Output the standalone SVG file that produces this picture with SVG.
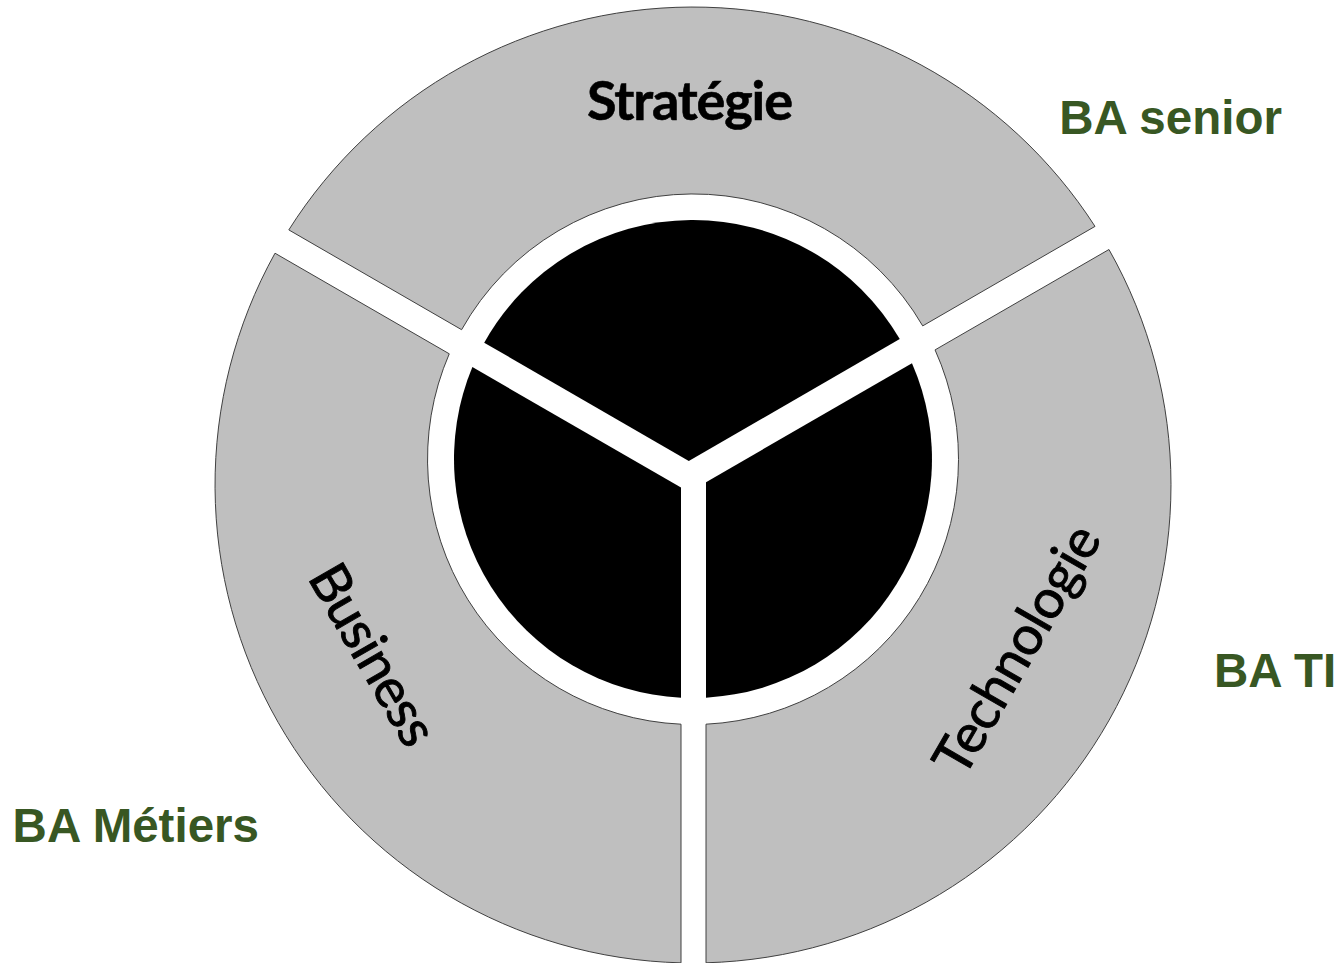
<svg xmlns="http://www.w3.org/2000/svg" width="1343" height="963" viewBox="0 0 1343 963">
<style>
.sector{fill:#bfbfbf;stroke:#404040;stroke-width:1}
.core{fill:#000000}
.lbl{font-family:Lato,"Open Sans","Liberation Sans",sans-serif;fill:#000000;font-size:54px;text-anchor:middle}
.side{stroke:#000000;stroke-width:0.9}
.ba{font-family:"Liberation Sans",Arial,sans-serif;font-weight:bold;font-size:47.5px;fill:#385723}
</style>
<rect x="0" y="0" width="1343" height="963" fill="#ffffff"/>
<g id="strategie">
<path class="sector" d="M 288.8,229.9 A 478 478 0 0 1 1095.0,226.4 L 922.7,325.9 A 265.5 265.5 0 0 0 461.6,329.7 Z"/>
<text class="lbl" x="690" y="120" font-weight="bold" textLength="206" stroke="#000" stroke-width="0.6">Stratégie</text>
</g>
<g id="business">
<path class="sector" d="M 275.0,253.2 A 478 478 0 0 0 681,962.85 L 681,724.2 A 265.5 265.5 0 0 1 449.25,353.8 Z"/>
<text class="lbl side" transform="translate(357,664) rotate(60)" x="0" y="0" textLength="200">Business</text>
</g>
<g id="technologie">
<path class="sector" d="M 1108.96,249.5 A 478 478 0 0 1 706,962.8 L 706,724.2 A 265.5 265.5 0 0 0 935.06,349.9 Z"/>
<text class="lbl side" transform="translate(1033,659) rotate(-60)" x="0" y="0" textLength="278">Technologie</text>
</g>
<g id="core">
<path class="core" d="M 484.2,342.7 A 239 239 0 0 1 899.76,339.1 L 688.8,460.9 Z"/>
<path class="core" d="M 472.37,367.1 A 239 239 0 0 0 681,697.7 L 681,487.6 Z"/>
<path class="core" d="M 911.98,363.3 A 239 239 0 0 1 706,697.65 L 706,482.2 Z"/>
</g>
<g id="ba-senior"><text class="ba" x="1059.3" y="134">BA senior</text></g>
<g id="ba-ti"><text class="ba" x="1213.9" y="687.3">BA TI</text></g>
<g id="ba-metiers"><text class="ba" x="12.6" y="841.7">BA Métiers</text></g>
<g id="connectors"></g>
</svg>
